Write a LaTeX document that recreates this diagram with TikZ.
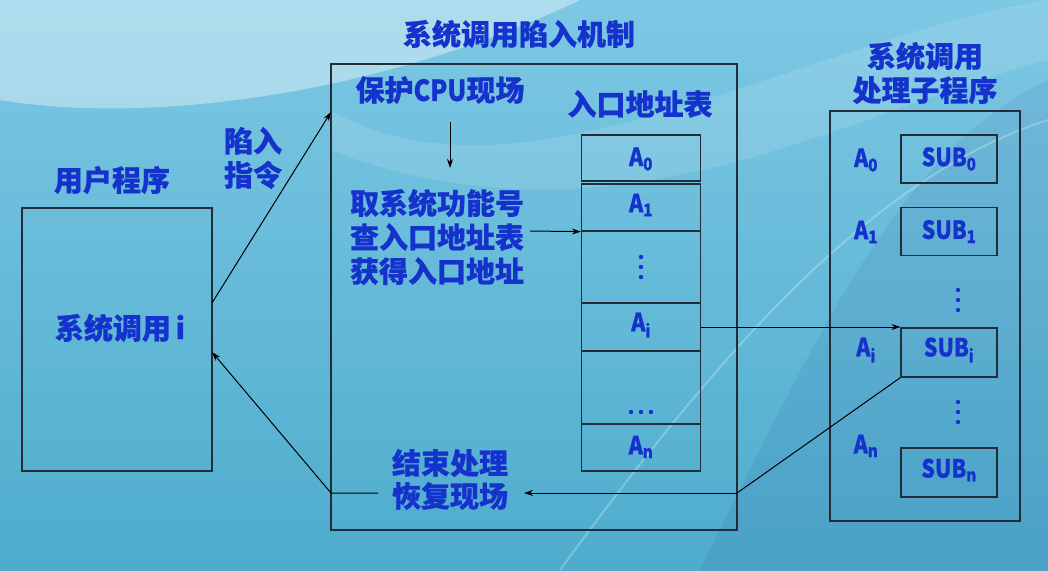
\documentclass[tikz,border=0pt]{standalone}
\usepackage{fontspec}
\setmainfont{Noto Sans CJK SC}[FakeBold=0.7]
\newfontfamily\latn{Noto Sans CJK SC}[FakeStretch=0.86,FakeBold=0.7]
\usetikzlibrary{arrows.meta,calc}
\definecolor{txt}{RGB}{22,50,205}
\definecolor{lineC}{RGB}{35,45,55}
\definecolor{bgTop}{RGB}{125,200,228}
\definecolor{bgBot}{RGB}{78,172,205}
\begin{document}
\begin{tikzpicture}[x=1pt,y=-1pt,
  box/.style={draw=lineC, line width=1.2pt, inner sep=0pt},
  lbl/.style={text=txt, font=\fontsize{29}{34}\selectfont\bfseries, inner sep=0pt, align=center},
  sml/.style={text=txt, font=\fontsize{25}{28}\selectfont\latn\bfseries, inner sep=0pt},
  conn/.style={draw=black, line width=1pt, -{Stealth[length=9pt,width=6pt]}},
  plain/.style={draw=black, line width=1pt},
  dot/.style={fill=txt}]
% background
\useasboundingbox (0,0) rectangle (1048,570);
\shade[top color=bgTop, bottom color=bgBot] (0,0) rectangle (1048,570);
\fill[white, opacity=0.38] (0,0) -- (0,100) .. controls (150,125) and (380,95) .. (580,0) -- cycle;
\fill[white, opacity=0.12] (330,110) .. controls (520,220) and (800,40) .. (1048,0) -- (1048,60) .. controls (850,110) and (620,260) .. (330,150) -- cycle;
\fill[black!60!blue, opacity=0.06] (700,570) .. controls (820,330) and (900,150) .. (1048,80) -- (1048,570) -- cycle;
\draw[white, opacity=0.25, line width=2pt] (560,570) .. controls (700,380) and (860,180) .. (1048,120);

% user program
\node[lbl] (tuser) at (112,180) {用户程序};
\node[box, minimum width=190pt, minimum height=263pt] (user) at (117,339.5) {};
\node[lbl] (ucall) at (120,328) {系统调用\,i};
\node[lbl] (trap) at (253,158) {陷入\\指令};

% main mechanism
\node[lbl] (tmain) at (519,34) {系统调用陷入机制};
\node[box, minimum width=406pt, minimum height=466pt] (main) at (534,297) {};
\node[lbl] (prot) at (440,90) {保护{\latn CPU}现场};
\node[lbl] (steps) at (437,237) {取系统功能号\\查入口地址表\\获得入口地址};
\node[lbl] (end1) at (450,463) {结束处理};
\node[lbl] (end2) at (450,496) {恢复现场};

% entry address table
\node[lbl] (ttab) at (640,104) {入口地址表};
\node[box, minimum width=119pt, minimum height=46pt] (c0) at (641,158) {};
\node[box, minimum width=119pt, minimum height=47pt] (c1) at (641,207.5) {};
\node[box, minimum width=119pt, minimum height=72pt] (c2) at (641,267) {};
\node[box, minimum width=119pt, minimum height=48pt] (ci) at (641,327) {};
\node[box, minimum width=119pt, minimum height=73pt] (c3) at (641,387.5) {};
\node[box, minimum width=119pt, minimum height=47pt] (cn) at (641,447.5) {};
\node[sml] (a0) at (641,159) {A\textsubscript{0}};
\node[sml] (a1) at (641,205) {A\textsubscript{1}};
\node[sml] (ai) at (641,325) {A\textsubscript{i}};
\node[sml] (an) at (641,447) {A\textsubscript{n}};
\foreach \yy in {257,267,277} \fill[dot] (641,\yy) circle (2.2pt);
\foreach \xx in {631,641,651} \fill[dot] (\xx,412) circle (2.2pt);

% handler subprograms
\node[lbl] (tsub) at (925,73) {系统调用\\处理子程序};
\node[box, minimum width=190pt, minimum height=410pt] (right) at (925,316) {};
\node[box, minimum width=96pt, minimum height=48pt] (s0) at (949,159) {};
\node[box, minimum width=96pt, minimum height=48pt] (s1) at (949,231.5) {};
\node[box, minimum width=96pt, minimum height=49pt] (si) at (949,352.5) {};
\node[box, minimum width=96pt, minimum height=49pt] (sn) at (949,472.5) {};
\node[sml] (sub0) at (949,159) {SUB\textsubscript{0}};
\node[sml] (sub1) at (949,231.5) {SUB\textsubscript{1}};
\node[sml] (subi) at (949,350) {SUB\textsubscript{i}};
\node[sml] (subn) at (949,470) {SUB\textsubscript{n}};
\node[sml] (r0) at (866,160) {A\textsubscript{0}};
\node[sml] (r1) at (866,232) {A\textsubscript{1}};
\node[sml] (ri) at (866,350) {A\textsubscript{i}};
\node[sml] (rn) at (866,446) {A\textsubscript{n}};
\foreach \yy in {290,300,310} \fill[dot] (958,\yy) circle (2.2pt);
\foreach \yy in {402,412,422} \fill[dot] (958,\yy) circle (2.2pt);

% connectors
\coordinate (trapS) at (212,303);
\coordinate (trapE) at (331,112);
\draw[conn] (trapS) -- (trapE);
\coordinate (downS) at (450,122);
\coordinate (downE) at (450,168);
\draw[conn] (downS) -- (downE);
\coordinate (lookS) at (530,231);
\draw[conn] (lookS) -- (c1.south west);
\draw[conn] (ci.east) -- (ci.east -| si.west);
\coordinate (retC) at (737,493);
\coordinate (retE) at (524,493);
\draw[plain] (si.south west) -- (retC);
\draw[conn] (retC) -- (retE);
\coordinate (retS) at (378,493);
\coordinate (retK) at (331,493);
\coordinate (retU) at (212,352);
\draw[conn] (retS) -- (retK) -- (retU);
\end{tikzpicture}
\end{document}
